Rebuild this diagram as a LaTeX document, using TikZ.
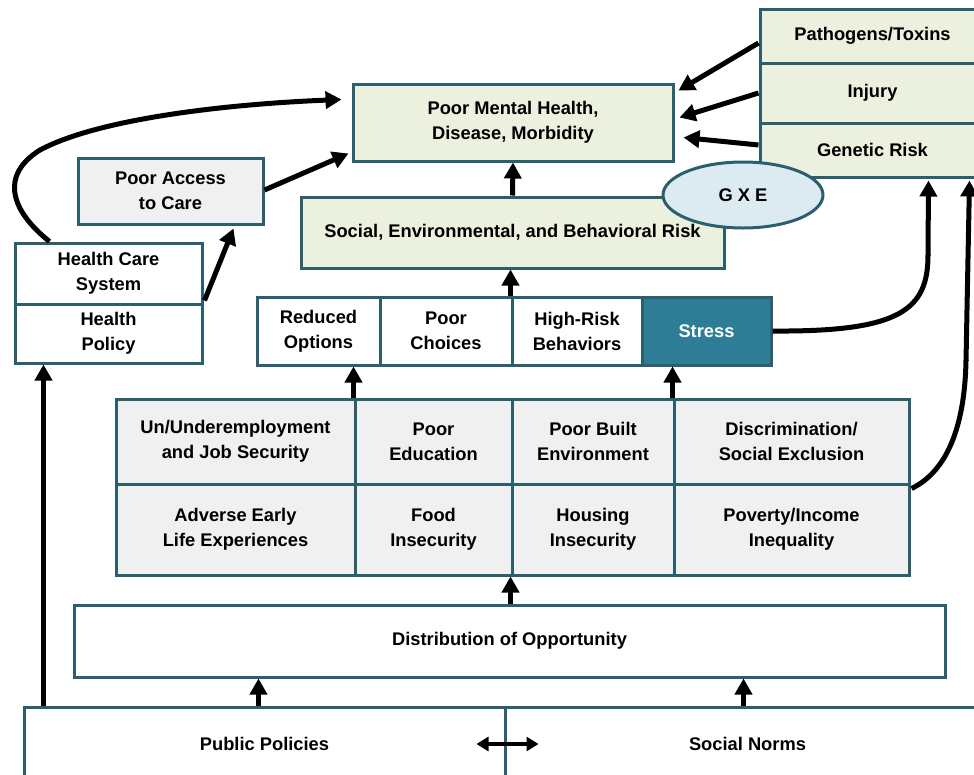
\documentclass[tikz,border=0pt]{standalone}
\usepackage{fontspec}
\setmainfont{Liberation Sans}
\usetikzlibrary{arrows.meta,shapes.geometric,calc}
\definecolor{bord}{HTML}{2C5F6D}
\definecolor{grn}{HTML}{ECF0DF}
\definecolor{gry}{HTML}{F0F0F0}
\definecolor{strs}{HTML}{2E7D96}
\definecolor{gxefill}{HTML}{DCEAF1}
\newcommand{\cellnode}[7]{\node[cellbox, fill=#6, minimum width={#4pt-#2pt}, minimum height={#5pt-#3pt}] (#1) at ({(#2+#4)/2},{(#3+#5)/2}) {#7};}
\tikzset{
  cellbox/.style={draw=bord, line width=3pt, align=center, inner sep=0pt,
    font=\bfseries\fontsize{18.3}{25}\selectfont, text=black},
  arr/.style={line width=5pt, -{Triangle[length=16pt,width=17pt]}},
  dblarr/.style={line width=4pt, {Triangle[length=12pt,width=14pt]}-{Triangle[length=12pt,width=14pt]}},
}
\begin{document}
\begin{tikzpicture}[x=1pt,y=-1pt]
\useasboundingbox[fill=white] (0,0) rectangle (974,774);
% top area
\cellnode{pmh}{353}{84}{673}{161}{grn}{Poor Mental Health,\\Disease, Morbidity}
\cellnode{path}{760}{9}{985}{63}{grn}{Pathogens/Toxins}
\cellnode{inj}{760}{63}{985}{123}{grn}{Injury}
\cellnode{gen}{760}{123}{985}{177}{grn}{Genetic Risk}
\cellnode{pac}{78}{158}{263}{224}{gry}{Poor Access\\to Care}
\cellnode{hcs}{15}{243}{202}{304}{white}{Health Care\\System}
\cellnode{hp}{15}{304}{202}{363}{white}{Health\\Policy}
\cellnode{soc}{301}{197}{724}{268}{grn}{Social, Environmental, and Behavioral Risk}
\node[ellipse, draw=bord, line width=3pt, fill=gxefill, minimum width=160pt, minimum height=66pt, inner sep=0pt,
  font=\bfseries\fontsize{18.3}{25}\selectfont] (gxe) at (743,195) {G X E};
% row of four
\cellnode{red}{257}{297}{380}{365}{white}{Reduced\\Options}
\cellnode{cho}{380}{297}{512}{365}{white}{Poor\\Choices}
\cellnode{hir}{512}{297}{642}{365}{white}{High-Risk\\Behaviors}
\cellnode{stress}{642}{297}{771}{365}{strs}{\textcolor{white}{Stress}}
% grid
\cellnode{unemp}{116}{399}{355}{484}{gry}{Un/Underemployment\\and Job Security}
\cellnode{edu}{355}{399}{512}{484}{gry}{Poor\\Education}
\cellnode{built}{512}{399}{674}{484}{gry}{Poor Built\\Environment}
\cellnode{disc}{674}{399}{909}{484}{gry}{Discrimination/\\Social Exclusion}
\cellnode{adv}{116}{484}{355}{575}{gry}{Adverse Early\\Life Experiences}
\cellnode{food}{355}{484}{512}{575}{gry}{Food\\Insecurity}
\cellnode{hous}{512}{484}{674}{575}{gry}{Housing\\Insecurity}
\cellnode{pov}{674}{484}{909}{575}{gry}{Poverty/Income\\Inequality}
% distribution and bottom
\cellnode{dist}{74}{605}{945}{677}{white}{Distribution of Opportunity}
\cellnode{pub}{24}{707}{505}{781}{white}{Public Policies}
\cellnode{norms}{505}{707}{990}{781}{white}{Social Norms}
% helper coordinates
\coordinate (hpa) at ($(pub.north west)+(21,0)$);
\coordinate (g1) at ($(gen.south)+(56,2)$);
\coordinate (g2) at ($(gen.south east)+(-17,2)$);
% connectors
\draw[arr] ($(hcs.north west)+(36,0)$) .. controls (10,210) and (0,175) .. (40,150)
   .. controls (100,118) and (230,104) .. ($(pmh.north west)+(-10,17)$);
\draw[arr] ($(pac.east)+(0,-1)$) -- ($(pmh.south west)+(-3,-9)$);
\draw[arr] ($(hp.north east)+(1,-2)$) -- ($(pac.south east)+(-31,3)$);
\draw[arr] ($(path.west)+(0,7)$) -- ($(pmh.north east)+(4,8)$);
\draw[arr] (inj.west) -- ($(pmh.east)+(5,-5)$);
\draw[arr] ($(gen.west)+(0,-5)$) -- ($(pmh.east)+(9,15)$);
\draw[arr] (soc.north) -- (pmh.south);
\draw[arr] (hir.north west) -- (hir.north west |- soc.south);
\draw[arr] (edu.north west) -- (edu.north west |- red.south);
\draw[arr] (disc.north west) -- (disc.north west |- stress.south);
\draw[arr] (hous.south west |- dist.north) -- (hous.south west);
\draw[arr] ($(pub.north)+(-6,0)$) -- ($(pub.north |- dist.south)+(-6,0)$);
\draw[arr] ($(norms.north)+(-4,0)$) -- ($(norms.north |- dist.south)+(-4,0)$);
\draw[arr] (hpa) -- (hpa |- hp.south);
\draw[dblarr] ($(pub.east)+(-30,0)$) -- ($(pub.east)+(32,0)$);
\draw[line width=5pt] (stress.east) .. controls (900,332) and (928,310) .. (928,255);
\draw[arr] (928,256) -- (g1);
\draw[line width=5pt] ($(pov.north east)+(1,6)$) .. controls (950,470) and (965,420) .. (966,360);
\draw[arr] (966,361) -- (g2);
\end{tikzpicture}
\end{document}
